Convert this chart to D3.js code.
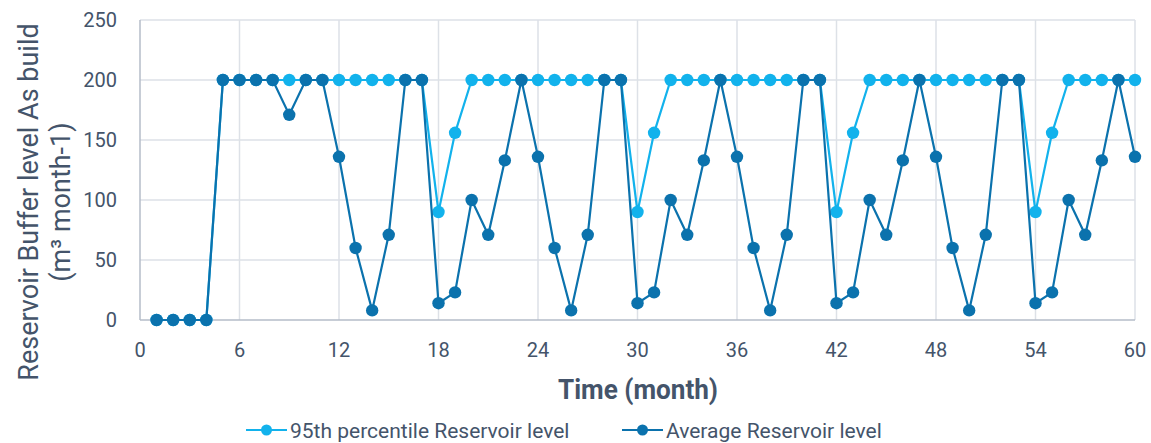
<!DOCTYPE html>
<html>
<head>
<meta charset="utf-8">
<script src="https://cdn.jsdelivr.net/npm/d3@7"></script>
<style>
  body { margin: 0; background: #fff; }
  text { font-family: Roboto, "Noto Sans", sans-serif; fill: #44546a; }
</style>
</head>
<body>
<div id="chart"></div>
<script>
const width = 1151,
      height = 443;

// months on the x axis
const months = [1,2,3,4,5,6,7,8,9,10,11,12,13,14,15,16,17,18,19,20,
  21,22,23,24,25,26,27,28,29,30,31,32,33,34,35,36,37,38,39,40,
  41,42,43,44,45,46,47,48,49,50,51,52,53,54,55,56,57,58,59,60];

// 95th percentile reservoir level
const p95Level = [0,0,0,0,200,200,200,200,200,200,200,200,200,200,200,200,200,90,156,200,
  200,200,200,200,200,200,200,200,200,90,156,200,200,200,200,200,200,200,200,200,
  200,90,156,200,200,200,200,200,200,200,200,200,200,90,156,200,200,200,200,200];

// average reservoir level
const avgLevel = [0,0,0,0,200,200,200,200,171,200,200,136,60,8,71,200,200,14,23,100,
  71,133,200,136,60,8,71,200,200,14,23,100,71,133,200,136,60,8,71,200,
  200,14,23,100,71,133,200,136,60,8,71,200,200,14,23,100,71,133,200,136];

const xTicks = [0,6,12,18,24,30,36,42,48,54,60];
const yTicks = [0,50,100,150,200,250];

const seriesNames = ['95th percentile Reservoir level', 'Average Reservoir level'];
const seriesColors = ['#12b2ec', '#0b72ad'];

const plot = {left: 140, right: 1135, top: 20, bottom: 320};

const x = d3.scaleLinear().domain([0, 60]).range([plot.left, plot.right]);
const y = d3.scaleLinear().domain([0, 250]).range([plot.bottom, plot.top]);

const svg = d3.select('#chart').append('svg')
  .attr('width', width)
  .attr('height', height);

// grid
svg.append('g').selectAll('line.h')
  .data(yTicks.filter(d => d > 0))
  .join('line')
  .attr('x1', plot.left).attr('x2', plot.right)
  .attr('y1', d => y(d)).attr('y2', d => y(d))
  .attr('stroke', '#dde1e7').attr('stroke-width', 1.5);

svg.append('g').selectAll('line.v')
  .data(xTicks.filter(d => d > 0))
  .join('line')
  .attr('x1', d => x(d)).attr('x2', d => x(d))
  .attr('y1', plot.top).attr('y2', plot.bottom)
  .attr('stroke', '#dde1e7').attr('stroke-width', 1.5);

// axes lines
svg.append('line')
  .attr('x1', plot.left).attr('x2', plot.left)
  .attr('y1', plot.top).attr('y2', plot.bottom)
  .attr('stroke', '#b4bcc8').attr('stroke-width', 1.5);
svg.append('line')
  .attr('x1', plot.left).attr('x2', plot.right)
  .attr('y1', plot.bottom).attr('y2', plot.bottom)
  .attr('stroke', '#b4bcc8').attr('stroke-width', 1.5);

// tick labels
svg.append('g').selectAll('text')
  .data(yTicks)
  .join('text')
  .attr('x', 117)
  .attr('y', d => y(d))
  .attr('dy', '0.35em')
  .attr('text-anchor', 'end')
  .style('font-size', '20px')
  .text(d => d);

svg.append('g').selectAll('text')
  .data(xTicks)
  .join('text')
  .attr('x', d => x(d))
  .attr('y', 357)
  .attr('text-anchor', 'middle')
  .style('font-size', '20px')
  .text(d => d);

// axis titles - condensed look via textLength
svg.append('text')
  .attr('x', 558)
  .attr('y', 399)
  .attr('textLength', 160)
  .attr('lengthAdjust', 'spacingAndGlyphs')
  .style('font-size', '28px')
  .style('font-weight', 'bold')
  .text('Time (month)');

const yTitle = svg.append('text')
  .attr('transform', 'translate(38,202) rotate(-90)')
  .attr('text-anchor', 'middle')
  .style('font-size', '27px');
yTitle.append('tspan').attr('x', 0).attr('y', 0).text('Reservoir Buffer level As build');
yTitle.append('tspan').attr('x', 0).attr('y', 32).text('(m³ month-1)');

// series
const series = [p95Level, avgLevel];
const line = d3.line()
  .x((d, i) => x(months[i]))
  .y(d => y(d));

series.forEach((vals, k) => {
  const g = svg.append('g');
  g.append('path')
    .datum(vals)
    .attr('d', line)
    .attr('fill', 'none')
    .attr('stroke', seriesColors[k])
    .attr('stroke-width', 2.2);
  g.selectAll('circle')
    .data(vals)
    .join('circle')
    .attr('cx', (d, i) => x(months[i]))
    .attr('cy', d => y(d))
    .attr('r', 6.2)
    .attr('fill', seriesColors[k]);
});

// legend
const legendX = [246, 622];
seriesNames.forEach((name, k) => {
  const g = svg.append('g').attr('transform', `translate(${legendX[k]},430)`);
  g.append('line')
    .attr('x1', 0).attr('x2', 41)
    .attr('stroke', seriesColors[k]).attr('stroke-width', 2.2);
  g.append('circle').attr('cx', 20.5).attr('r', 5.5).attr('fill', seriesColors[k]);
  g.append('text')
    .attr('x', 44)
    .attr('y', 8)
    .style('font-size', '21px')
    .text(name);
});
</script>
</body>
</html>
